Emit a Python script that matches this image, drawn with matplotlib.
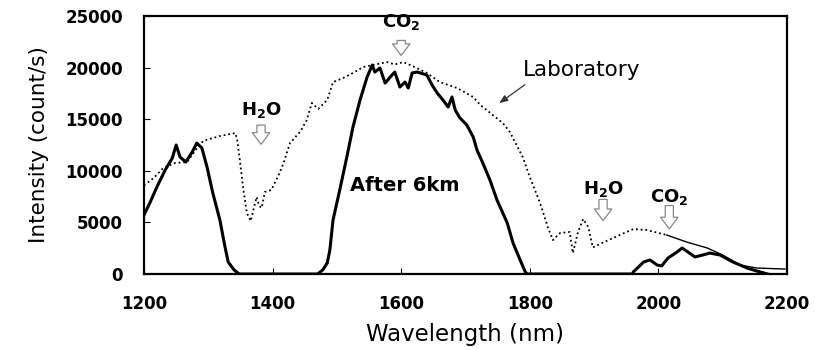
import matplotlib
matplotlib.use("Agg")
import matplotlib.pyplot as plt

plt.rcParams['font.family'] = ['DejaVu Sans']
plt.rcParams['mathtext.fontset'] = 'dejavusans'

# Laboratory spectrum (dotted)
lab_wl = [1200, 1215, 1230, 1248, 1267, 1280, 1292, 1318, 1342, 1345, 1349, 1354, 1360, 1366,
          1375, 1379, 1383, 1388, 1398, 1411, 1417, 1427, 1443, 1453, 1461, 1471, 1485, 1494,
          1510, 1525, 1541, 1556, 1578, 1590, 1603, 1614, 1640, 1660, 1687, 1712, 1723, 1758,
          1769, 1789, 1800, 1816, 1828, 1836, 1847, 1862, 1867, 1875, 1883, 1891, 1898, 1914,
          1940, 1961, 1982, 2013, 2044, 2076, 2100, 2127, 2153, 2197]
lab_int = [8600, 9300, 10270, 10750, 10850, 12000, 12900, 13370, 13660, 13000, 11050, 8430, 5900, 5140,
           7460, 6600, 6400, 7950, 8140, 9800, 10750, 12690, 13800, 14900, 16570, 16000, 16860, 18600,
           19000, 19480, 20060, 20250, 20540, 20300, 20540, 20250, 19480, 18600, 18020, 17150, 16380, 14630,
           13760, 11340, 9400, 6880, 4550, 3290, 3970, 4070, 2030, 4070, 5330, 4550, 2570, 3050,
           3780, 4360, 4260, 3780, 3100, 2520, 1840, 870, 580, 480]

# After 6 km spectrum (thick solid)
km6_wl = [1200, 1209, 1220, 1233, 1244, 1250, 1256, 1265, 1275, 1282, 1290, 1298, 1307, 1318,
          1326, 1331, 1340, 1348, 1470, 1478, 1485, 1489, 1494, 1505, 1516, 1525, 1536, 1547,
          1555, 1559, 1567, 1575, 1583, 1590, 1598, 1606, 1611, 1617, 1625, 1640, 1648, 1656,
          1665, 1673, 1679, 1684, 1691, 1702, 1712, 1718, 1727, 1738, 1749, 1765, 1774, 1785,
          1793, 1796, 1960, 1961, 1977, 1987, 1998, 2005, 2015, 2029, 2037, 2046, 2057, 2069,
          2080, 2096, 2116, 2138, 2153, 2170]
km6_int = [5720, 6880, 8430, 10080, 11240, 12500, 11340, 10850, 11820, 12690, 12210, 10370, 7850, 5230,
           2620, 1160, 400, 0, 0, 390, 1070, 2300, 5230, 8300, 11500, 14240, 16860, 19090,
           20250, 19570, 19960, 18500, 19090, 19570, 18120, 18600, 18020, 19480, 19570, 19280, 18310, 17540,
           16860, 16180, 17150, 15890, 15150, 14440, 13280, 12000, 10750, 9110, 7170, 4940, 3000, 1360,
           200, 0, 0, 200, 1160, 1360, 870, 780, 1550, 2130, 2520, 2130, 1650, 1840,
           2030, 1840, 1160, 580, 290, 0]

x_ticks = [1200, 1400, 1600, 1800, 2000, 2200]
y_ticks = [0, 5000, 10000, 15000, 20000, 25000]

fig = plt.figure(figsize=(8.15, 3.5), dpi=100)
ax = fig.add_axes([0.1767, 0.2171, 0.7889, 0.7372])

split = lab_wl.index(2013)
ax.plot(lab_wl[:split + 1], lab_int[:split + 1], color='black', lw=1.3, ls=(0, (1, 1.6)))
ax.plot(lab_wl[split:], lab_int[split:], color='black', lw=1.0)
ax.plot(km6_wl, km6_int, color='black', lw=2.2, solid_joinstyle='round')

ax.set_xlim(1200, 2200)
ax.set_ylim(0, 25000)
ax.set_xticks(x_ticks)
ax.set_yticks(y_ticks)
ax.tick_params(direction='in', length=4, width=0.8, labelsize=12)
ax.tick_params(axis='x', pad=15)
ax.tick_params(axis='y', pad=15)
for lbl in ax.get_xticklabels() + ax.get_yticklabels():
    lbl.set_fontweight('bold')
for s in ax.spines.values():
    s.set_linewidth(1.6)

ax.set_xlabel('Wavelength (nm)', fontsize=16.5)
ax.set_ylabel('Intensity (count/s)', fontsize=15.5)
ax.xaxis.set_label_coords(0.5, -0.19)
ax.yaxis.set_label_coords(-0.148, 0.5)

# hollow down arrows with molecule labels
arrow = dict(arrowstyle='simple,head_width=0.9,head_length=0.6,tail_width=0.42',
             fc='white', ec='#888888', lw=0.9, mutation_scale=14)
marks = [(r'$\mathbf{CO_2}$', 1600, 24400, 22900, 20900),
         (r'$\mathbf{H_2O}$', 1382, 15900, 14700, 12300),
         (r'$\mathbf{H_2O}$', 1914, 8200, 7500, 4900),
         (r'$\mathbf{CO_2}$', 2017, 7500, 6900, 4100)]
for lbl, x, ty, a0, a1 in marks:
    ax.text(x, ty, lbl, ha='center', va='center', fontsize=13)
    ax.annotate('', xy=(x, a1), xytext=(x, a0), arrowprops=arrow)

ax.text(1606, 8600, 'After 6km', ha='center', va='center', fontsize=14, fontweight='bold')
ax.text(1880, 19800, 'Laboratory', ha='center', va='center', fontsize=15.5)
ax.annotate('', xy=(1749, 16400), xytext=(1796, 18500),
            arrowprops=dict(arrowstyle='-|>,head_width=0.2,head_length=0.5', color='#333333', lw=0.9))

fig.savefig('out.png', dpi=100)
